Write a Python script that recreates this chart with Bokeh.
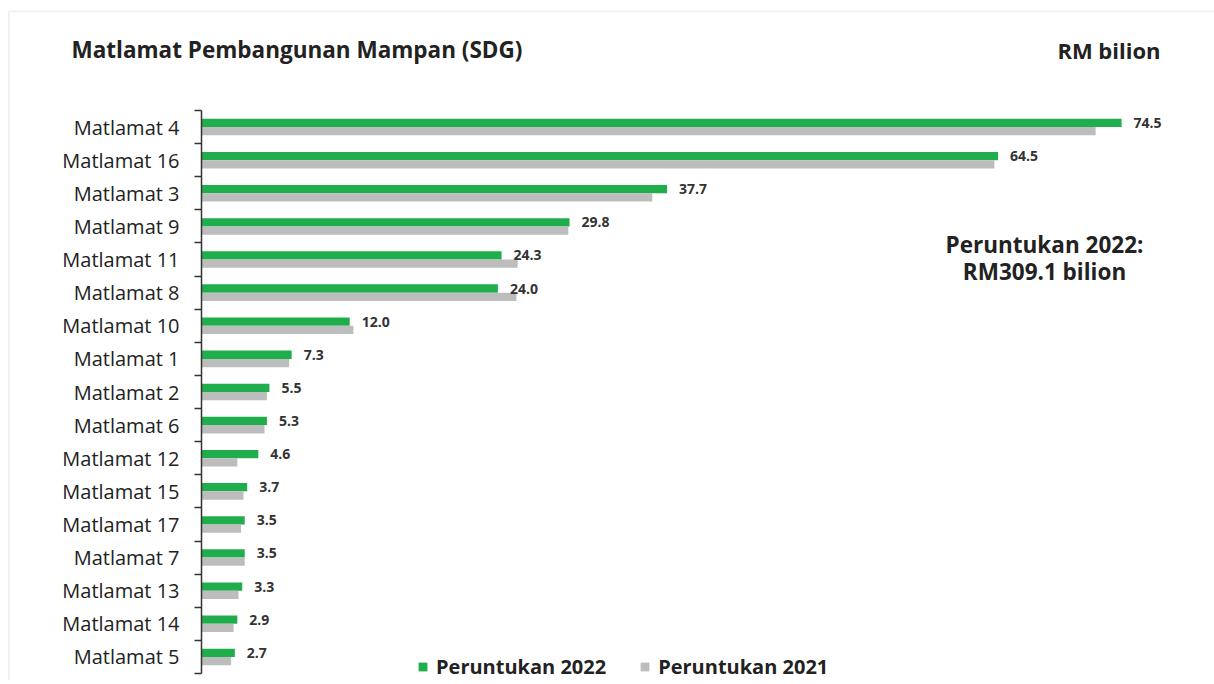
from bokeh.plotting import figure
from bokeh.models import (ColumnDataSource, Range1d, FixedTicker, Label, Legend, LegendItem, BoxAnnotation)
from bokeh.core.properties import value
from bokeh.embed import file_html
from bokeh.resources import INLINE

categories = ["Matlamat 4", "Matlamat 16", "Matlamat 3", "Matlamat 9", "Matlamat 11",
              "Matlamat 8", "Matlamat 10", "Matlamat 1", "Matlamat 2", "Matlamat 6",
              "Matlamat 12", "Matlamat 15", "Matlamat 17", "Matlamat 7", "Matlamat 13",
              "Matlamat 14", "Matlamat 5"]
peruntukan_2022 = [74.5, 64.5, 37.7, 29.8, 24.3, 24.0, 12.0, 7.3, 5.5, 5.3, 4.6, 3.7, 3.5, 3.5, 3.3, 2.9, 2.7]
peruntukan_2021 = [72.4, 64.2, 36.5, 29.7, 25.6, 25.5, 12.3, 7.1, 5.3, 5.1, 2.9, 3.4, 3.2, 3.5, 3.0, 2.6, 2.4]
value_labels = ["%.1f" % v for v in peruntukan_2022]

GREEN = "#1fae4b"
GRAY = "#bdbdbd"
FONT = "Open Sans"

W, H = 1214, 680
n = len(categories)
centers = [n - 1 - i for i in range(n)]
boundaries = [k - 0.5 for k in range(n + 1)]

# layout in canvas pixels
zero_px, px_per_unit = 201, 12.35
cat_top_px, cat_bot_px = 110, 673
unit_px = (cat_bot_px - cat_top_px) / n
x_start = -zero_px / px_per_unit
x_end = (W - zero_px) / px_per_unit
y_start = -0.5 - (H - cat_bot_px) / unit_px
y_end = n - 0.5 + cat_top_px / unit_px

src = ColumnDataSource(dict(
    cat=categories, y=centers,
    y22=[c + 0.125 for c in centers], y21=[c - 0.125 for c in centers],
    v22=peruntukan_2022, v21=peruntukan_2021, lab=value_labels,
))

p = figure(width=W, height=H, output_backend="svg", toolbar_location=None,
           x_range=Range1d(x_start, x_end), y_range=Range1d(y_start, y_end),
           min_border_left=0, min_border_top=0, min_border_bottom=0, min_border_right=0)
p.outline_line_color = None
p.grid.visible = False
p.xaxis.visible = False

# page frame (top and left edge)
p.add_layout(BoxAnnotation(left=x_start + 8.5 / px_per_unit, right=x_end + 1,
                           top=y_end - 11 / unit_px, bottom=y_start - 1,
                           fill_alpha=0, line_color="#d0d0d0", line_width=2))

r22 = p.hbar(y="y22", right="v22", left=0, height=0.25, source=src, color=GREEN, line_color=None)
r21 = p.hbar(y="y21", right="v21", left=0, height=0.25, source=src, color=GRAY, line_color=None)

p.text(x="v22", y="y22", text="lab", source=src, x_offset=12, text_baseline="middle",
       text_font=value(FONT), text_font_style="bold", text_font_size="14px", text_color="#333333")

ax = p.yaxis[0]
ax.fixed_location = 0
ax.bounds = (-0.5, n - 0.5)
ax.ticker = FixedTicker(ticks=centers, minor_ticks=boundaries)
ax.major_label_overrides = {c: cat for c, cat in zip(centers, categories)}
ax.major_tick_line_color = None
ax.major_tick_out = 0
ax.major_tick_in = 0
ax.minor_tick_out = 7
ax.minor_tick_in = 0
ax.minor_tick_line_color = "#333333"
ax.minor_tick_line_width = 1.5
ax.axis_line_color = "#333333"
ax.axis_line_width = 1.5
ax.major_label_standoff = 15
ax.major_label_text_font = FONT
ax.major_label_text_font_size = "20px"
ax.major_label_text_color = "#222222"

def add_label(text, x, y, size, align="left"):
    p.add_layout(Label(x=x, y=y, x_units="screen", y_units="screen", text=text,
                       text_font=FONT, text_font_style="bold", text_font_size=size,
                       text_color="#222222", text_align=align, text_baseline="alphabetic"))

add_label("Matlamat Pembangunan Mampan (SDG)", 71, H - 49, "22.5px")
add_label("RM bilion", 1160, H - 49, "22px", "right")
add_label("Peruntukan 2022:", 1044, H - 244, "22.5px", "center")
add_label("RM309.1 bilion", 1044, H - 271, "22.5px", "center")

legend = Legend(items=[LegendItem(label="Peruntukan 2022", renderers=[r22]),
                       LegendItem(label="Peruntukan 2021", renderers=[r21])],
                location=(417, 0), orientation="horizontal",
                glyph_width=11, glyph_height=11, label_standoff=8, spacing=33,
                label_text_font=FONT, label_text_font_style="bold", label_text_font_size="20px",
                label_text_color="#222222", padding=0, margin=0,
                border_line_alpha=0, background_fill_alpha=0, label_height=16)
p.add_layout(legend)

open("out.html", "w").write(file_html(p, INLINE))
